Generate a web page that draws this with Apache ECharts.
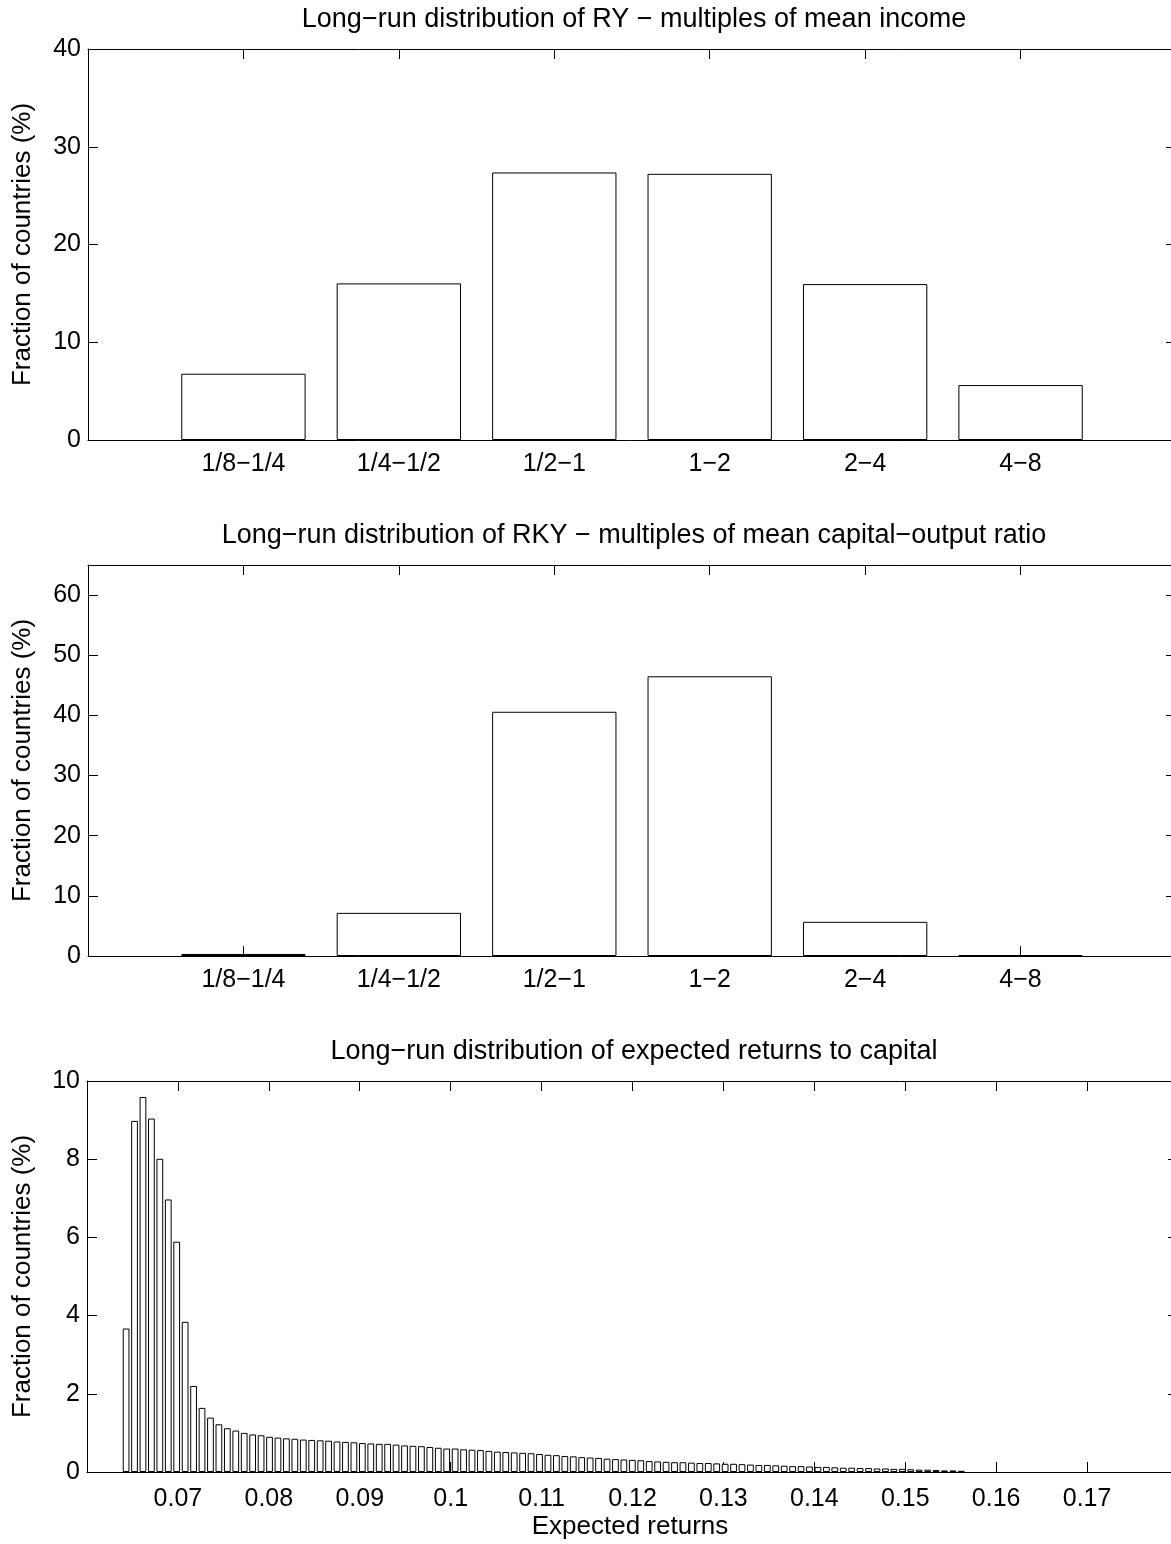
<!DOCTYPE html>
<html>
<head>
<meta charset="utf-8">
<title>Long-run distributions</title>
<script src="https://cdn.jsdelivr.net/npm/echarts@6/dist/echarts.min.js"></script>
<style>
  html, body { margin: 0; padding: 0; background: #fff; }
  #chart { width: 1171px; height: 1544px; }
</style>
</head>
<body>
<div id="chart"></div>
<script>
// categories: multiples of the mean
var incomeBins = ['1/8−1/4', '1/4−1/2', '1/2−1', '1−2', '2−4', '4−8'];

// fraction of countries (%)
var ryShares  = [6.78, 16.02, 27.37, 27.23, 15.95, 5.62];
var rkyShares = [0.34, 7.17, 40.6, 46.5, 5.68, 0.15];

// histogram of expected returns: 100 bins
var firstBinCenter = 0.0643;
var binWidth = 0.000928;
var returnShares = [
    3.67, 8.98, 9.59, 9.04, 8.01, 6.97, 5.89, 3.84, 2.20, 1.64,
    1.39, 1.22, 1.12, 1.06, 1.00, 0.96, 0.94, 0.90, 0.88, 0.86,
    0.85, 0.83, 0.82, 0.81, 0.80, 0.78, 0.77, 0.76, 0.74, 0.73,
    0.72, 0.72, 0.70, 0.68, 0.67, 0.66, 0.64, 0.62, 0.60, 0.60,
    0.58, 0.57, 0.56, 0.54, 0.52, 0.51, 0.50, 0.49, 0.48, 0.46,
    0.44, 0.43, 0.41, 0.40, 0.38, 0.37, 0.36, 0.34, 0.33, 0.32,
    0.31, 0.30, 0.28, 0.27, 0.26, 0.25, 0.25, 0.24, 0.23, 0.23,
    0.22, 0.21, 0.21, 0.20, 0.19, 0.18, 0.18, 0.17, 0.16, 0.15,
    0.15, 0.14, 0.13, 0.13, 0.12, 0.11, 0.11, 0.10, 0.10, 0.09,
    0.09, 0.08, 0.08, 0.07, 0.06, 0.06, 0.05, 0.04, 0.04, 0.03
];

// tick labels
var ryTicks = [0, 10, 20, 30, 40];
var rkyTicks = [0, 10, 20, 30, 40, 50, 60];
var returnYTicks = [0, 2, 4, 6, 8, 10];
var returnXTicks = [0.07, 0.08, 0.09, 0.1, 0.11, 0.12, 0.13, 0.14, 0.15, 0.16, 0.17];

var titles = [
    'Long−run distribution of RY − multiples of mean income',
    'Long−run distribution of RKY − multiples of mean capital−output ratio',
    'Long−run distribution of expected returns to capital'
];

var FONT = '"Liberation Sans", Arial, Helvetica, sans-serif';
var TICK_SIZE = 25;
var INK = '#000';

var binCenters = returnShares.map(function (v, i) {
    return +(firstBinCenter + i * binWidth).toFixed(6);
});

var grids = [
    {left: 88, right: -5, top: 49, height: 391},
    {left: 88, right: -5, top: 565, height: 391},
    {left: 87, right: -7, top: 1081, height: 391}
];

function lineStyle() {
    return {show: true, onZero: false, lineStyle: {color: INK, width: 1}};
}

function tickStyle() {
    return {show: true, inside: true, length: 10, lineStyle: {color: INK, width: 1}};
}

function catAxis(gridIndex, position) {
    var bottom = position === 'bottom';
    return {
        type: 'category',
        gridIndex: gridIndex,
        position: position,
        data: [''].concat(incomeBins, ['']),
        boundaryGap: false,
        axisLine: lineStyle(),
        axisTick: tickStyle(),
        axisLabel: {
            show: bottom, interval: 0, margin: 12, color: INK,
            fontFamily: FONT, fontSize: TICK_SIZE
        },
        splitLine: {show: false}
    };
}

function valAxis(gridIndex, position, ticks, max, showLabel) {
    return {
        type: 'value',
        gridIndex: gridIndex,
        position: position,
        min: 0,
        max: max,
        interval: ticks[1] - ticks[0],
        axisLine: lineStyle(),
        axisTick: tickStyle(),
        axisLabel: {
            show: showLabel, margin: 7, color: INK,
            fontFamily: FONT, fontSize: TICK_SIZE,
            showMaxLabel: max === ticks[ticks.length - 1]
        },
        splitLine: {show: false}
    };
}

function returnXAxis(position) {
    var bottom = position === 'bottom';
    return {
        type: 'value',
        gridIndex: 2,
        position: position,
        min: 0.06,
        max: 0.18,
        interval: returnXTicks[1] - returnXTicks[0],
        axisLine: lineStyle(),
        axisTick: tickStyle(),
        axisLabel: {
            show: bottom, margin: 15, color: INK,
            fontFamily: FONT, fontSize: TICK_SIZE,
            showMinLabel: false, showMaxLabel: false,
            formatter: function (v) { return String(+v.toFixed(2)); }
        },
        splitLine: {show: false}
    };
}

var barStyle = {color: '#fff', borderColor: INK, borderWidth: 1};

var graphicTexts = [];
grids.forEach(function (g, i) {
    graphicTexts.push({
        type: 'text', x: 634, y: g.top - 29,
        style: {text: titles[i], fontFamily: FONT, fontSize: 27, fill: INK,
                align: 'center', verticalAlign: 'middle'}
    });
    graphicTexts.push({
        type: 'text', x: 23, y: g.top + g.height / 2, rotation: Math.PI / 2,
        style: {text: 'Fraction of countries (%)', fontFamily: FONT, fontSize: 26, fill: INK,
                align: 'center', verticalAlign: 'middle'}
    });
});
graphicTexts.push({
    type: 'text', x: 630, y: 1527,
    style: {text: 'Expected returns', fontFamily: FONT, fontSize: 26, fill: INK,
            align: 'center', verticalAlign: 'middle'}
});

var option = {
    backgroundColor: '#fff',
    animation: false,
    grid: grids.map(function (g) {
        return Object.assign({outerBoundsMode: 'none', containLabel: false}, g);
    }),
    xAxis: [
        catAxis(0, 'bottom'),
        catAxis(0, 'top'),
        catAxis(1, 'bottom'),
        catAxis(1, 'top'),
        returnXAxis('bottom'),
        returnXAxis('top')
    ],
    yAxis: [
        valAxis(0, 'left', ryTicks, 40, true),
        valAxis(0, 'right', ryTicks, 40, false),
        valAxis(1, 'left', rkyTicks, 65, true),
        valAxis(1, 'right', rkyTicks, 65, false),
        valAxis(2, 'left', returnYTicks, 10, true),
        valAxis(2, 'right', returnYTicks, 10, false)
    ],
    series: [
        {
            name: 'RY', type: 'bar', xAxisIndex: 0, yAxisIndex: 0,
            barWidth: '80%', itemStyle: barStyle,
            data: ['-'].concat(ryShares, ['-'])
        },
        {
            name: 'RKY', type: 'bar', xAxisIndex: 2, yAxisIndex: 2,
            barWidth: '80%', itemStyle: barStyle,
            data: ['-'].concat(rkyShares, ['-'])
        },
        {
            name: 'Returns', type: 'bar', xAxisIndex: 4, yAxisIndex: 4,
            barWidth: '80%', itemStyle: barStyle,
            data: binCenters.map(function (x, i) { return [x, returnShares[i]]; })
        }
    ],
    graphic: graphicTexts
};

var chart = echarts.init(document.getElementById('chart'), null, {renderer: 'canvas'});
chart.setOption(option);
</script>
</body>
</html>
